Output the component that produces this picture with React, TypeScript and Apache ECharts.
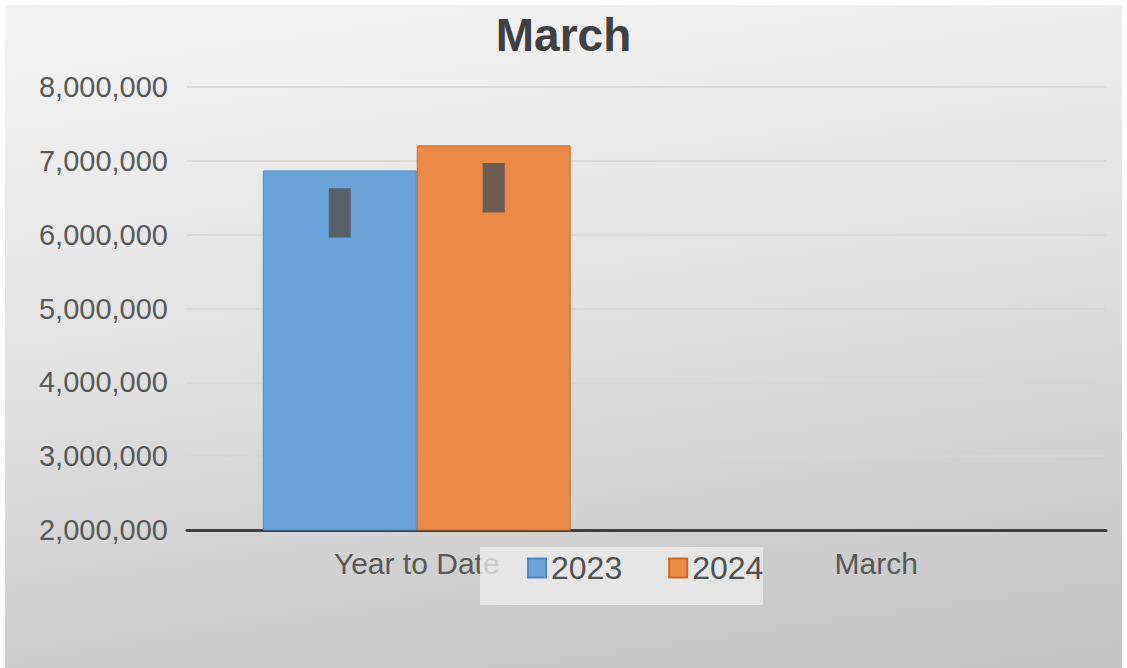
import React, { useEffect, useRef } from "react";
import * as echarts from "echarts";

const categories = ["Year to Date", "March"];
const seriesNames = ["2023", "2024"];
const values2023 = [6870000, null];
const values2024 = [7210000, null];
// floating high-low marks inside each bar: [categoryIndex, low, high, slot]
const floats2023 = [[0, 5960000, 6630000, 0]];
const floats2024 = [[0, 6300000, 6970000, 1]];
const yTicks = { min: 2000000, max: 8000000, interval: 1000000 };

const FONT = "'Liberation Sans', Arial, sans-serif";
const GAP = 0.33;

export default function App() {
  const ref = useRef<HTMLDivElement>(null);
  useEffect(() => {
    if (!ref.current) return;
    const chart = echarts.init(ref.current, null, { renderer: "svg" });
    const renderFloat = (params: any, api: any) => {
      const cat = api.value(0);
      const low = api.value(1);
      const high = api.value(2);
      const slot = api.value(3);
      const top = api.coord([cat, high]);
      const bot = api.coord([cat, low]);
      const band = api.size([1, 0])[0];
      const barW = (band * (1 - GAP)) / 2;
      const cx = top[0] + (slot === 0 ? -barW / 2 : barW / 2);
      const w = 22;
      return {
        type: "rect",
        shape: { x: cx - w / 2, y: top[1], width: w, height: bot[1] - top[1] },
        style: { fill: "rgba(85,85,85,0.85)" },
      };
    };
    chart.setOption({
      animation: false,
      backgroundColor: "transparent",
      textStyle: { fontFamily: FONT },
      title: {
        text: "March",
        left: "center",
        top: 7,
        textStyle: { fontSize: 46, fontWeight: "bold", color: "#404040", fontFamily: FONT },
      },
      grid: { left: 187, right: 21, top: 87, bottom: 138, containLabel: false },
      legend: {
        data: seriesNames,
        left: 527,
        top: 552,
        padding: 0,
        itemWidth: 18,
        itemHeight: 19,
        itemGap: 46,
        z: 110,
        icon: "rect",
        textStyle: { fontSize: 32, color: "#505050", fontFamily: FONT },
      },
      graphic: [
        {
          type: "rect",
          z: 100,
          shape: { x: 480, y: 547, width: 283, height: 58 },
          style: { fill: "rgba(236,236,236,0.78)" },
        },
      ],
      xAxis: {
        type: "category",
        data: categories,
        axisLine: { lineStyle: { color: "#404040", width: 3 } },
        axisTick: { show: false },
        axisLabel: { fontSize: 30, color: "#595959", margin: 18, fontFamily: FONT },
      },
      yAxis: {
        type: "value",
        min: yTicks.min,
        max: yTicks.max,
        interval: yTicks.interval,
        axisLine: { show: false },
        axisTick: { show: false },
        splitLine: { lineStyle: { color: "#d6d6d6", width: 1.5 } },
        axisLabel: {
          fontSize: 29,
          color: "#595959",
          margin: 19,
          fontFamily: FONT,
          formatter: (v: number) => v.toLocaleString("en-US"),
        },
      },
      series: [
        {
          name: seriesNames[0],
          type: "bar",
          data: values2023,
          barGap: "0%",
          barCategoryGap: "33%",
          itemStyle: { color: "#6aa3d8", borderColor: "#4f89c2", borderWidth: 1 },
        },
        {
          name: seriesNames[1],
          type: "bar",
          data: values2024,
          barGap: "0%",
          barCategoryGap: "33%",
          itemStyle: { color: "#ec8a48", borderColor: "#c96a2c", borderWidth: 1 },
        },
        {
          name: "floats2023",
          type: "custom",
          renderItem: renderFloat,
          encode: { x: 0, y: [1, 2] },
          data: floats2023,
          z: 5,
        },
        {
          name: "floats2024",
          type: "custom",
          renderItem: renderFloat,
          encode: { x: 0, y: [1, 2] },
          data: floats2024,
          z: 5,
        },
      ],
    });
    return () => chart.dispose();
  }, []);
  return (
    <div style={{ position: "fixed", left: 0, top: 0, width: 1127, height: 668, background: "#ffffff" }}>
      <div
        style={{
          position: "absolute",
          left: 5,
          top: 5,
          width: 1117,
          height: 663,
          background: "linear-gradient(172deg, #f4f4f4 0%, #e2e2e2 45%, #c2c2c2 100%)",
        }}
      />
      <div ref={ref} style={{ position: "absolute", left: 0, top: 0, width: 1127, height: 668 }} />
    </div>
  );
}
